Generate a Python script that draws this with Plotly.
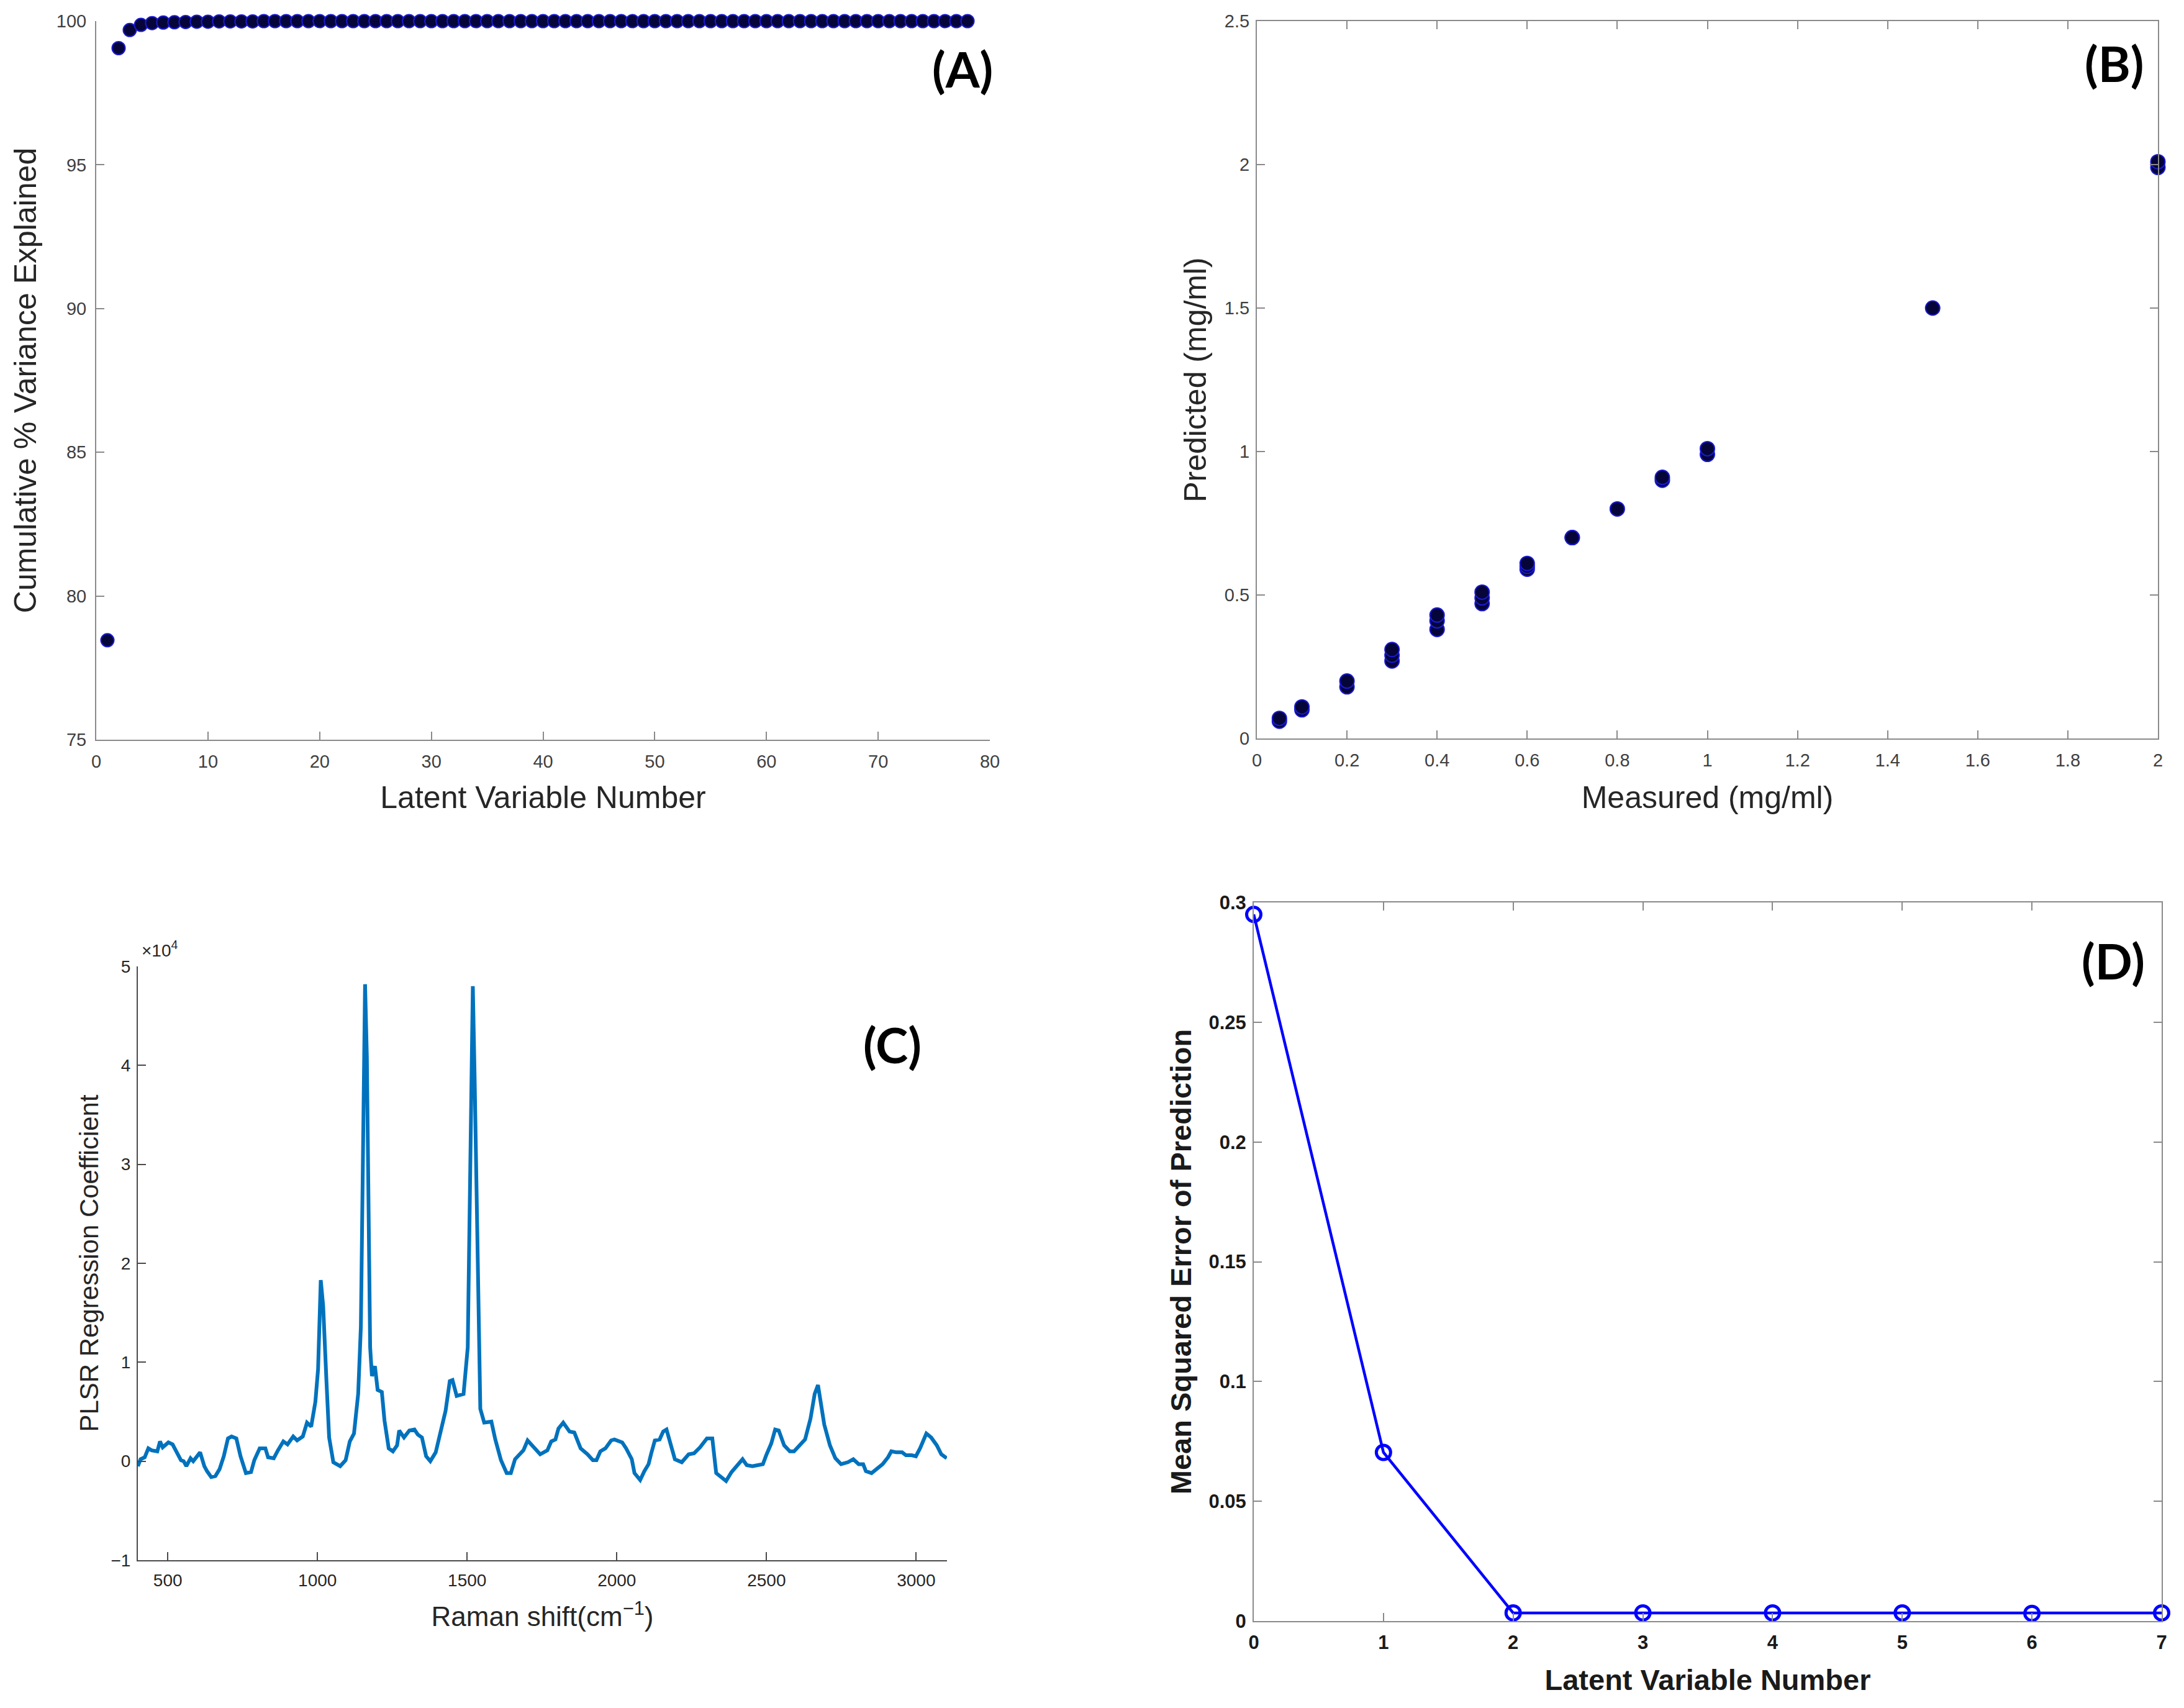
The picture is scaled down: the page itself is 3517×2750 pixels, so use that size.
import plotly.graph_objects as go

W, H = 3517, 2750

# ---------------- Panel A data ----------------
lv_number = list(range(1, 79))
cum_var = [78.46, 99.06, 99.69, 99.87, 99.93, 99.95, 99.96, 99.97, 99.98, 99.98,
           99.99, 99.99, 99.99, 99.99, 100.0, 100.0, 100.0, 100.0, 100.0, 100.0,
           100.0, 100.0, 100.0, 100.0, 100.0, 100.0, 100.0, 100.0, 100.0, 100.0,
           100.0, 100.0, 100.0, 100.0, 100.0, 100.0, 100.0, 100.0, 100.0, 100.0,
           100.0, 100.0, 100.0, 100.0, 100.0, 100.0, 100.0, 100.0, 100.0, 100.0,
           100.0, 100.0, 100.0, 100.0, 100.0, 100.0, 100.0, 100.0, 100.0, 100.0,
           100.0, 100.0, 100.0, 100.0, 100.0, 100.0, 100.0, 100.0, 100.0, 100.0,
           100.0, 100.0, 100.0, 100.0, 100.0, 100.0, 100.0, 100.0]

# ---------------- Panel B data ----------------
measured = [0.05, 0.05, 0.1, 0.1, 0.2, 0.2, 0.3, 0.3, 0.3, 0.4, 0.4, 0.4,
            0.5, 0.5, 0.5, 0.6, 0.6, 0.6, 0.7, 0.7, 0.8, 0.9, 0.9, 1.0, 1.0,
            1.5, 2.0, 2.0]
predicted = [0.06, 0.07, 0.10, 0.11, 0.18, 0.20, 0.27, 0.29, 0.31, 0.38, 0.41, 0.43,
             0.47, 0.49, 0.51, 0.59, 0.60, 0.61, 0.70, 0.70, 0.80, 0.90, 0.91, 0.99, 1.01,
             1.50, 1.99, 2.01]

# ---------------- Panel C data (coefficient in units of 1e4) ----------------
raman_shift = [400, 409, 423, 435, 446, 465, 474, 483, 502, 516, 530, 544, 553, 562, 576,
               585, 608, 622, 631, 645, 659, 673, 687, 701, 713, 729, 743, 761, 778, 789,
               807, 826, 835, 854, 868, 886, 900, 919, 932, 951, 965, 979, 993, 1002, 1011,
               1019, 1030, 1039, 1053, 1076, 1094, 1108, 1122, 1136, 1145, 1152, 1159, 1165,
               1170, 1176, 1182, 1192, 1201, 1215, 1224, 1238, 1252, 1266, 1273, 1289, 1307,
               1324, 1335, 1349, 1363, 1377, 1395, 1409, 1428, 1442, 1451, 1465, 1488, 1502,
               1511, 1519, 1525, 1534, 1544, 1557, 1581, 1594, 1613, 1632, 1646, 1660, 1688,
               1702, 1726, 1744, 1768, 1781, 1795, 1805, 1821, 1842, 1858, 1879, 1902, 1920,
               1932, 1945, 1962, 1981, 1992, 2018, 2031, 2050, 2059, 2078, 2092, 2106, 2115,
               2127, 2143, 2155, 2166, 2180, 2194, 2217, 2240, 2258, 2278, 2301, 2319, 2332,
               2351, 2365, 2383, 2402, 2420, 2434, 2453, 2471, 2488, 2499, 2516, 2529, 2541,
               2559, 2578, 2592, 2615, 2629, 2647, 2661, 2672, 2682, 2693, 2712, 2730, 2749,
               2772, 2790, 2808, 2823, 2832, 2851, 2869, 2888, 2906, 2917, 2934, 2953, 2966,
               2985, 2999, 3013, 3034, 3050, 3069, 3084, 3102]
coef_e4 = [-0.05, 0.02, 0.04, 0.13, 0.11, 0.10, 0.20, 0.14, 0.19, 0.17, 0.09, 0.01, 0.00, -0.05, 0.03,
           0.00, 0.09, -0.05, -0.10, -0.16, -0.15, -0.08, 0.05, 0.23, 0.25, 0.23, 0.05, -0.12, -0.11, 0.01,
           0.13, 0.13, 0.04, 0.03, 0.11, 0.20, 0.17, 0.25, 0.21, 0.25, 0.39, 0.35, 0.60, 0.93, 1.83,
           1.57, 0.81, 0.24, -0.01, -0.05, 0.01, 0.20, 0.28, 0.68, 1.36, 3.25, 4.82, 4.09,
           2.41, 1.15, 0.86, 0.96, 0.72, 0.70, 0.41, 0.13, 0.10, 0.16, 0.31, 0.24, 0.31,
           0.32, 0.27, 0.24, 0.05, 0.00, 0.09, 0.26, 0.51, 0.81, 0.82, 0.66, 0.68, 1.15,
           3.25, 4.80, 3.88, 1.99, 0.53, 0.39, 0.40, 0.22, 0.01, -0.12, -0.12, 0.02, 0.11,
           0.21, 0.13, 0.07, 0.11, 0.20, 0.22, 0.33, 0.39, 0.30, 0.29, 0.13, 0.07, 0.01,
           0.01, 0.10, 0.13, 0.21, 0.22, 0.19, 0.13, 0.02, -0.12, -0.19, -0.10, -0.03, 0.08,
           0.21, 0.22, 0.30, 0.32, 0.16, 0.02, -0.01, 0.07, 0.08, 0.14, 0.23, 0.23, -0.12,
           -0.16, -0.20, -0.11, -0.05, 0.02, -0.04, -0.05, -0.04, -0.03, 0.06, 0.18, 0.32, 0.31,
           0.16, 0.10, 0.10, 0.17, 0.22, 0.43, 0.68, 0.77, 0.60, 0.37, 0.16, 0.03, -0.03,
           -0.01, 0.02, -0.03, -0.03, -0.10, -0.12, -0.08, -0.03, 0.04, 0.10, 0.09, 0.09, 0.06,
           0.06, 0.05, 0.13, 0.28, 0.24, 0.16, 0.07, 0.03]

# ---------------- Panel D data ----------------
n_lv = [0, 1, 2, 3, 4, 5, 6, 7]
msep = [0.295, 0.0704, 0.0034, 0.0034, 0.0034, 0.0034, 0.0032, 0.0034]

# tick values
a_xticks = [0, 10, 20, 30, 40, 50, 60, 70, 80]
a_yticks = [75, 80, 85, 90, 95, 100]
b_xticks = [0, 0.2, 0.4, 0.6, 0.8, 1, 1.2, 1.4, 1.6, 1.8, 2]
b_yticks = [0, 0.5, 1, 1.5, 2, 2.5]
c_xticks = [500, 1000, 1500, 2000, 2500, 3000]
c_yticks = [-1, 0, 1, 2, 3, 4, 5]
d_xticks = [0, 1, 2, 3, 4, 5, 6, 7]
d_yticks = [0, 0.05, 0.1, 0.15, 0.2, 0.25, 0.3]
d_yticklabels = ["0", "0.05", "0.1", "0.15", "0.2", "0.25", "0.3"]

HELV = "Liberation Sans, Arial, sans-serif"
LABEL_FONT = "Lato, Carlito, sans-serif"


def px_x(p):
    return p / W


def px_y(p):
    return 1 - p / H


fig = go.Figure()

# Panel A
fig.add_trace(go.Scatter(
    x=lv_number, y=cum_var, mode="markers", xaxis="x", yaxis="y",
    marker=dict(size=21, color="#05053a", line=dict(color="#1a1ad0", width=2)),
    showlegend=False, cliponaxis=False))

# Panel B
fig.add_trace(go.Scatter(
    x=measured, y=predicted, mode="markers", xaxis="x2", yaxis="y2",
    marker=dict(size=23, color="#05053a", line=dict(color="#1a1ad0", width=2)),
    showlegend=False, cliponaxis=False))

# Panel C
fig.add_trace(go.Scatter(
    x=raman_shift, y=coef_e4, mode="lines", xaxis="x3", yaxis="y3",
    line=dict(color="#0072BD", width=6),
    showlegend=False))

# Panel D
fig.add_trace(go.Scatter(
    x=n_lv, y=msep, mode="lines+markers", xaxis="x4", yaxis="y4",
    line=dict(color="#0000FF", width=4.5),
    marker=dict(symbol="circle-open", size=23, color="#0000FF", line=dict(width=5)),
    showlegend=False, cliponaxis=False))

tick_font = dict(family=HELV, size=29, color="#404040")
title_font = dict(family=HELV, size=50, color="#262626")
gray = "#8a8a8a"

common_inside = dict(ticks="inside", ticklen=13, tickwidth=2, showgrid=False,
                     zeroline=False, showline=True, linewidth=2, automargin=False)

d_tick_font = dict(family=HELV, size=31, color="#1a1a1a", weight="bold")
d_title_font = dict(family=HELV, size=47, color="#1a1a1a", weight="bold")
c_tick_font = dict(family=HELV, size=28, color="#262626")

fig.update_layout(
    width=W, height=H,
    margin=dict(l=0, r=0, t=0, b=0),
    paper_bgcolor="white", plot_bgcolor="white",
    showlegend=False,
    # Panel A
    xaxis=dict(domain=[px_x(155), px_x(1594)], anchor="y", range=[0, 80],
               tickvals=a_xticks, linecolor=gray, tickcolor=gray, tickfont=tick_font,
               ticklabelstandoff=8,
               title=dict(text="Latent Variable Number", font=title_font, standoff=25),
               **common_inside),
    yaxis=dict(domain=[px_y(1191), px_y(34)], anchor="x", range=[75, 100],
               tickvals=a_yticks, linecolor=gray, tickcolor=gray, tickfont=tick_font,
               ticklabelstandoff=8,
               title=dict(text="Cumulative % Variance Explained", font=title_font, standoff=16),
               **common_inside),
    # Panel B
    xaxis2=dict(domain=[px_x(2024), px_x(3475)], anchor="y2", range=[0, 2],
                tickvals=b_xticks, linecolor=gray, tickcolor=gray, tickfont=tick_font,
                mirror="ticks", ticklabelstandoff=8,
                title=dict(text="Measured (mg/ml)", font=title_font, standoff=27),
                **common_inside),
    yaxis2=dict(domain=[px_y(1189), px_y(34)], anchor="x2", range=[0, 2.5],
                tickvals=b_yticks, linecolor=gray, tickcolor=gray, tickfont=tick_font,
                mirror="ticks", ticklabelstandoff=4,
                title=dict(text="Predicted (mg/ml)", font=title_font, standoff=13),
                **common_inside),
    # Panel C
    xaxis3=dict(domain=[px_x(222), px_x(1525)], anchor="y3", range=[400, 3103],
                tickvals=c_xticks, linecolor="#4a4a4a", tickcolor="#4a4a4a",
                tickfont=c_tick_font, ticklabelstandoff=6,
                title=dict(text="Raman shift(cm<sup>−1</sup>)",
                           font=dict(family=HELV, size=44, color="#262626"), standoff=29),
                **common_inside),
    yaxis3=dict(domain=[px_y(2512), px_y(1556)], anchor="x3", range=[-1, 5],
                tickvals=c_yticks, linecolor="#4a4a4a", tickcolor="#4a4a4a",
                tickfont=c_tick_font, ticklabelstandoff=4,
                title=dict(text="PLSR Regression Coefficient",
                           font=dict(family=HELV, size=42, color="#262626"), standoff=7),
                **common_inside),
    # Panel D
    xaxis4=dict(domain=[px_x(2019), px_x(3481)], anchor="y4", range=[0, 7],
                tickvals=d_xticks, linecolor=gray, tickcolor=gray,
                tickfont=d_tick_font, mirror="ticks", ticklabelstandoff=6,
                title=dict(text="Latent Variable Number", font=d_title_font, standoff=27),
                **common_inside),
    yaxis4=dict(domain=[px_y(2610), px_y(1453)], anchor="x4", range=[0, 0.3],
                tickvals=d_yticks, ticktext=d_yticklabels, linecolor=gray, tickcolor=gray,
                tickfont=d_tick_font, mirror="ticks", ticklabelstandoff=4,
                title=dict(text="Mean Squared Error of Prediction", font=d_title_font, standoff=13),
                **common_inside),
)

label_font = dict(family=LABEL_FONT, size=79, color="black", weight="bold")
panel_labels = [("(A)", 1550, 110), ("(B)", 3404, 102), ("(C)", 1437, 1681), ("(D)", 3403, 1546)]
annotations = []
for txt, xp, yp in panel_labels:
    annotations.append(dict(text=txt, x=px_x(xp), y=px_y(yp), xref="paper", yref="paper",
                            xanchor="center", yanchor="middle", showarrow=False, font=label_font))
annotations.append(dict(text="×10<sup>4</sup>", x=px_x(226), y=px_y(1548), xref="paper", yref="paper",
                        xanchor="left", yanchor="bottom", showarrow=False,
                        font=dict(family=HELV, size=28, color="#262626")))
fig.update_layout(annotations=annotations)

fig.write_html("out.html", config={"displayModeBar": False},
               post_script="document.body.style.margin='0';document.body.style.overflow='hidden';")
